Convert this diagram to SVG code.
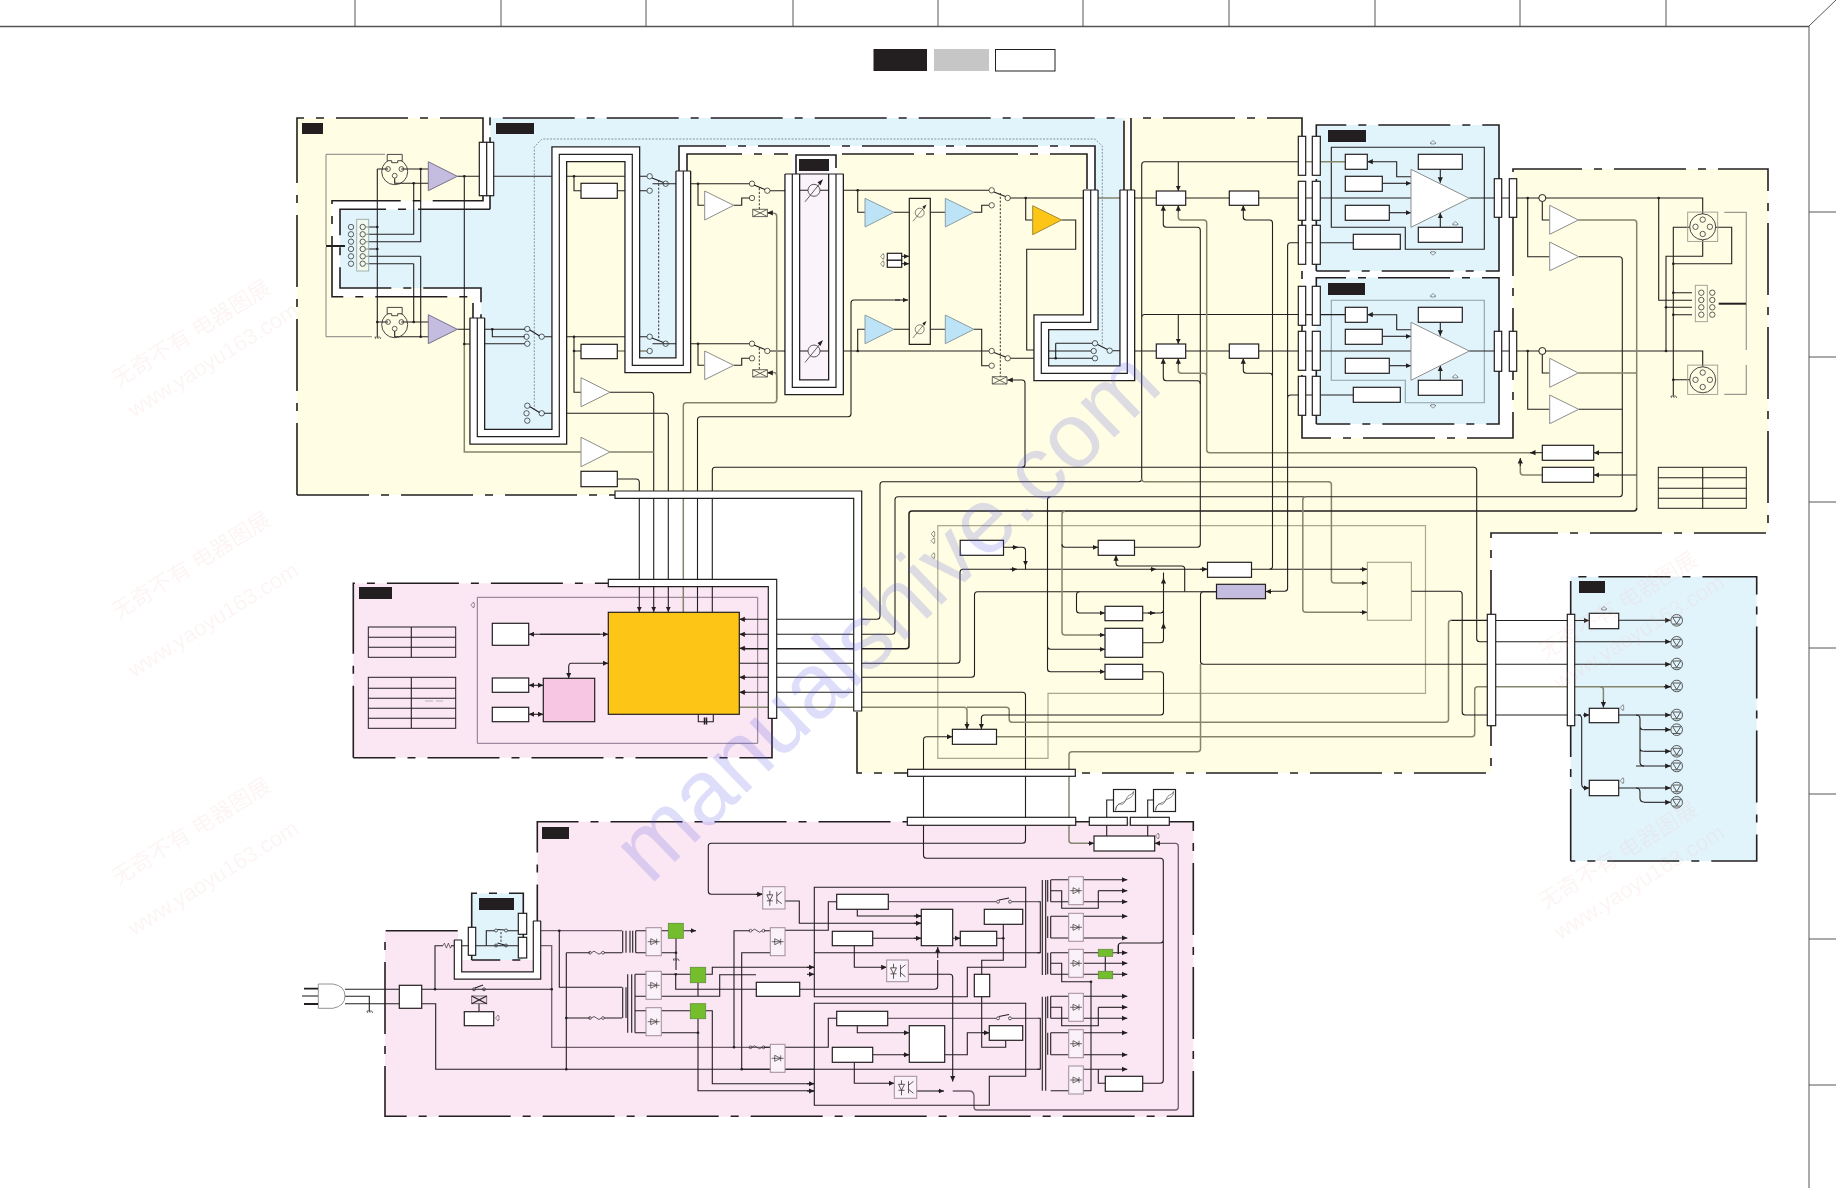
<svg xmlns="http://www.w3.org/2000/svg" width="1836" height="1188" viewBox="0 0 1836 1188">
<style>
.w{fill:none;stroke:#231F20;stroke-width:1.1}
.a{fill:none;stroke:#231F20;stroke-width:1.1;marker-end:url(#ah)}
.g{fill:none;stroke:#85856e;stroke-width:1.5}
.gm{fill:none;stroke:#6f5f6c;stroke-width:1.3}
.b{fill:#fff;stroke:#231F20;stroke-width:1.2}
.bk{fill:#231F20}
.d{fill:#231F20}
.c{fill:none;stroke:#33383a;stroke-width:.8}
.dd{fill:none;stroke:#231F20;stroke-width:.9;stroke-dasharray:2.2 1.6}
.bd{fill:none;stroke:#231F20;stroke-width:1.6;stroke-dasharray:72 12 8 12}
.tw{fill:#fff;stroke:#8d8d8d;stroke-width:1}
.tb{fill:#BDE4F6;stroke:#8d9da5;stroke-width:1}
.tp{fill:#C5BDE0;stroke:#77728d;stroke-width:1}
.to{fill:#FDC617;stroke:#a08b3a;stroke-width:1}
.gr{fill:#74BE2D;stroke:#5f8f38;stroke-width:.8}
.db{fill:#fbf1f8;stroke:#a08d9a;stroke-width:1}
.r1{fill:none;stroke:#231F20;stroke-width:16}
.r2{fill:none;stroke:#fff;stroke-width:13.4}
.r3{fill:none;stroke:#231F20;stroke-width:1.2}
.gp{fill:none;stroke:#a9a98c;stroke-width:1.2}
</style>
<defs>
<marker id="ah" markerWidth="7" markerHeight="7" refX="5.5" refY="3" orient="auto" markerUnits="userSpaceOnUse"><path d="M0 .4L5.5 3L0 5.6Z" fill="#231F20"/></marker>
<g id="dio"><path d="M-3 -3L3 0L-3 3Z M3 -3V3 M-6 0H6" fill="none" stroke="#3a3438" stroke-width=".7"/></g>
<g id="led"><circle r="5.8" fill="none" stroke="#333" stroke-width=".8"/><path d="M-4 -3H4L0 3.5Z M-4 3.8H4" fill="none" stroke="#333" stroke-width=".8"/></g>
<path id="ho" d="M-2 -1V-.2H-3L0 2.5L3 -.2H2V-1Z" fill="none" stroke="#555" stroke-width=".6"/>
<path id="gn" d="M-2.5 0H2.5M-2.5 0L-1.5 2M0 0L1 2M2.5 0L3.5 2" fill="none" stroke="#333" stroke-width=".7"/>
<g id="pot"><circle r="6" fill="none" stroke="#333" stroke-width=".8"/><path d="M-9 11.5L6 -7" fill="none" stroke="#333" stroke-width=".8"/><path d="M9 -11L3.5 -8L6.5 -5Z" fill="#231F20"/></g>
<g id="fuse"><circle cx="-6.5" r="1.4" fill="none" stroke="#333" stroke-width=".7"/><circle cx="6.5" r="1.4" fill="none" stroke="#333" stroke-width=".7"/><path d="M-5 0Q-2.5 -3 0 0T5 0" fill="none" stroke="#333" stroke-width=".8"/></g>
<g id="opto"><path d="M-7 -3H-1L-4 3Z M-7 3H-1 M-4 -7V-3 M-4 3V8 M3 -6V6 M3 -2L8 -6 M3 2L8 6" fill="none" stroke="#333" stroke-width=".8"/></g>
<g id="fan"><rect x="-11" y="-11" width="22" height="22" class="b"/><path d="M-9 10C-6 -3 -3 9 1 0S6 -3 9 -9M-9 10C-9 3 -2 3 1 0S9 -2 9 -9" fill="none" stroke="#555" stroke-width=".7"/></g>
<g id="xlr"><circle r="13" fill="none" stroke="#333" stroke-width=".9"/><circle cx="-6.7" cy="-2.7" r="2.4" class="c"/><circle cx="6.7" cy="-2.7" r="2.4" class="c"/><circle cy="4" r="2.4" class="c"/><path d="M-7.500 -17.300H7.500V-11H3V-9H-3V-11H-7.500Z" fill="#fffde3" stroke="#333" stroke-width=".9"/></g>
<g id="xlf"><rect x="-15" y="-14.7" width="30" height="29.3" fill="none" stroke="#9a9a90" stroke-width=".9"/><circle r="13" fill="none" stroke="#333" stroke-width=".9"/><circle cx="-7.2" r="2.7" class="c"/><circle cx="7.2" r="2.7" class="c"/><circle cy="-7.2" r="2.7" class="c"/><circle cy="7.2" r="2.7" class="c"/></g>
<path id="xb" d="M0 0H14.7V7.3H0Z M0 0L14.7 7.3M14.7 0L0 7.3" fill="#fffde3" stroke="#444" stroke-width=".8"/>
</defs>

<g id="frame">
<path d="M0 26.5H1809" fill="none" stroke="#555" stroke-width="1.6"/>
<path d="M355 0V26M501 0V26M646 0V26M793 0V26M938 0V26M1083 0V26M1229 0V26M1375 0V26M1520 0V26M1666 0V26M1809 26V1188M1809 26L1836 0M1809 212H1836M1809 357H1836M1809 502H1836M1809 648H1836M1809 794H1836M1809 939H1836M1809 1085H1836" fill="none" stroke="#444" stroke-width=".9"/>
<rect x="873.5" y="49" width="53.5" height="22" fill="#231F20"/>
<rect x="934" y="49" width="55" height="22" fill="#C6C6C6"/>
<rect x="995.5" y="49.5" width="59.5" height="21.5" fill="#fff" stroke="#231F20" stroke-width="1"/>
</g>

<g id="panels">
<path id="p-yellow" fill="#FFFDE3" d="M297 118H1302V438H1513V169H1768V533H1491V773H856V495H297Z"/>
<path id="p-blue" fill="#E2F4FB" d="M490 118H1124V190H1127.3V373.3H1041.3V322.3H1090.7V190H1095V146H679V171H683.3V365.3H632.3V154.3H559.3V436.7H477.3V318H481V288H340V209.3H490Z"/>
<path d="M486 118V205H335.7V292.7H477V318" fill="none" stroke="#fff" stroke-width="8.5"/>
<path d="M683 171V150H1091V190" fill="none" stroke="#fff" stroke-width="8"/>
<rect x="1127" y="118" width="4" height="72" fill="#fff"/>
<rect x="792" y="154" width="46" height="21" fill="#fff"/>
<rect id="p-iso" x="799.3" y="159" width="29" height="221" fill="#FBF3FA"/>
<rect id="p-box1" x="1316.3" y="125" width="182.7" height="146" fill="#E2F4FB"/>
<rect id="p-box2" x="1316.3" y="277.7" width="182.7" height="146.3" fill="#E2F4FB"/>
<rect id="p-pink1" x="353.3" y="583.3" width="418.7" height="174.4" fill="#FBE6F3"/>
<path id="p-pink2" fill="#FBE6F3" d="M385 930.7H458V960H537.3V821.7H1193.3V1116.7H385Z"/>
<rect id="p-mini" x="471.7" y="893.3" width="51.6" height="66.7" fill="#E2F4FB"/>
<rect id="p-led" x="1570.7" y="576.7" width="186" height="284.3" fill="#E2F4FB"/>
<path class="bd" d="M297 495V118H483V200.7H332V296.7H473V318M297 495H615"/>
<path class="bd" d="M490 209.3V118H1124V190M490 209.3H340V288H481V318"/>
<path class="bd" d="M679 171V146H1095V190M687 171V154H788M842 154H1087V190M796 174V155H836V174"/>
<path class="bd" d="M1131 190V118H1302V438H1513V169H1768V533H1491V773H857V712"/>
<path class="bd" d="M1316.3 271V125H1499V271H1316.3M1316.3 424V277.7H1499V424H1316.3"/>
<path class="bd" d="M353.3 757.7V583.3H772V757.7H353.3"/>
<path class="bd" d="M457.7 930.7H385V1116.3H1193.3V821.7H537.3V921"/>
<path class="bd" d="M471.7 960V893.3H523.3V960H471.7"/>
<path class="bd" d="M1570.7 861V576.7H1756.7V861H1570.7"/>
<path class="gp" d="M937.8 525.7H1425.5V693.3H1048V758.3H937.8Z"/>
<rect class="gp" x="1367.4" y="562.3" width="44" height="58"/>
<path d="M534.3 410V147L542 139H1095L1102.3 146V346" fill="none" stroke="#6d7d86" stroke-width=".8" stroke-dasharray="2 1.4"/>
<path d="M477.3 597.3H757.7V743.3H477.3Z" fill="none" stroke="#85748a" stroke-width="1"/>
<path d="M1331.3 147.3H1484.3V249.3H1405.3V227.3H1331.3Z" class="w"/>
<path d="M1331.3 300.3H1484.3V402.7H1405.3V380.3H1331.3Z" fill="none" stroke="#8aa0ad" stroke-width="1.1"/>
<rect class="bk" x="302" y="123" width="21" height="11"/>
<rect class="bk" x="496" y="123" width="38" height="11"/>
<rect class="bk" x="799" y="159" width="30" height="12"/>
<rect class="bk" x="1328" y="130" width="38" height="12"/>
<rect class="bk" x="1328" y="283" width="37" height="12"/>
<rect class="bk" x="359" y="587" width="33" height="12"/>
<rect class="bk" x="542" y="827" width="27" height="12"/>
<rect class="bk" x="479" y="898" width="35" height="12"/>
<rect class="bk" x="1579" y="581" width="26" height="12"/>
<path d="M326 245V154.3H385M326 247V336.7H372" fill="none" stroke="#777" stroke-width=".9"/>
<path d="M1724.3 212.3H1746.3V350M1724.3 394.3H1746.3V365" fill="none" stroke="#9a9a90" stroke-width="1.2"/>
</g>

<g id="connectors">
<path class="w" d="M377.3 169H388M377.3 169V336.7M401.3 169H428.3M394.7 178.3V183.3H428.3M420.7 169V241.7H366M413.7 183.3V234.3H366M377.3 227H366M377.3 249H366M420.7 256.3H366M420.7 256.3V336.7M413.7 263.7H366M413.7 263.7V322M377.3 322H388M401.3 322H428.3M394.7 331V336.7H428.3"/>
<path class="w" d="M457.3 176.3H480M457.3 329.3H470M464.3 176.3V344H470"/>
<path class="g" d="M464.3 344V452H581"/>
<path class="w" d="M484 329.3H525M492.3 329.3V336.7H525M484 343.7H525M544.4 336.7H647M493.7 176.3H647M617.3 190.7H647"/>
<path class="g" d="M617.3 351H647"/>
<path class="w" d="M574 176.3V190.7H581M574 336.7V392.3H581M574 351H581"/>
<path class="w" d="M652.5 183.7H676M652.5 343.7H676"/>
<path class="dd" d="M658.7 180V340"/>
<path class="w" d="M690 183.7H749.7M690 343.7H749.7M698 183.7V205.3H704.7M698 343.7V365.3H704.7M733.7 205.3H741.7V198H749.7M733.7 365.3H741.7V358.3H749.7M770 190.7H790M770 351H790"/>
<path class="dd" d="M759.3 188V209M759.3 348V369"/>
<path class="a" d="M544 413.3H665q3.3 0 3.3 3.3V612"/>
<path class="a" d="M610 392.3H650.3q3.4 0 3.4 3.4V612"/>
<path class="g" d="M610 452H653.7"/>
<path class="a" d="M617.3 479H636q3.3 0 3.3 3.3V612"/>
<path class="g" d="M683.3 612V405.7q0-3 3-3H773.7q3 0 3-3V216.3q0-3-3-3H768"/>
<path class="a" d="M772 212.8H767.3"/>
<path class="g" d="M776.7 399V375.5q0-3-3-3H768"/>
<path class="a" d="M772 372.8H767.3"/>
<path class="w" d="M697.5 612V419.7q0-3 3-3H848q3 0 3-3V303q0-3 3-3H900"/>
<path class="a" d="M895 300H908"/>
<path class="a" d="M712.3 612V470.3q0-3 3-3H1473.7q3 0 3 3V638.7q0 3 3 3H1670.7"/>
<path class="a" d="M1022 467.3q3 0 3-3V383q0-3-3-3H1007.3"/>
<path class="w" d="M843.3 190.3H989M857.7 190.3V212.3H865M784 190.3H808M820 190.3H843M784 351H808M820 351H843"/>
<path class="w" d="M843.3 351H989M857.7 351V329.3H865M894 212.3H909.3M930.3 212.3H945.3M974 212.3H981.7V205.3H989M894 329.3H909.3M930.3 329.3H945.3M974 329.3H981.7V365.7H989"/>
<path class="dd" d="M1000.3 193V377"/>
<path class="w" d="M1010.3 198H1083.3M1025.7 198V220H1032.7M1061.7 220H1075.7V249.3H1026.7V350H1034M1010.3 358.3H1034"/>
<path class="w" d="M1055.7 343.3H1092.5M1048 351H1091M1048 358.3H1092.5M1055.7 343.3V358.3M1112.5 350.7H1120"/>
<path class="g" d="M1098 198H1120"/>
<path class="w" d="M1134 198H1156.3M1185.7 198H1229.3M1134 351H1156.3M1185.7 351H1229.3"/>
<path class="w" d="M1258.7 198H1411M1469.3 198H1702.7V214M1258.7 351H1411M1469.3 351H1702.7V366.7"/>
<path class="a" d="M1178.3 161.7V191"/><path class="a" d="M1178.3 314.5V344"/>
<path class="g" d="M1298 161.7H1345.3"/>
<path class="w" d="M1298 161.7H1144.7q-3 0-3 3V478.7q0 3-3 3H883q-3 0-3 3V616.3q0 3-3 3H744M1144.7 314.5H1345.3M1141.7 317.5q0-3 3-3"/>
<path class="a" d="M746 619.3H739.3"/>
<path class="g" d="M1141.7 478.7q0 3 3 3H1328.4q3 0 3 3V580q0 3 3 3H1360"/>
<path class="a" d="M1360 583H1367"/>
<path class="w" d="M1578.7 256.7H1619.3q3 0 3 3V493.7q0 3-3 3H898q-3 0-3 3V631.3q0 3-3 3H744"/>
<path class="a" d="M746 634.3H739.3"/>
<path class="g" d="M1578.3 220H1633.7q3 0 3 3V508"/>
<path class="w" style="stroke-width:1.5" d="M1636.7 508q0 3-3 3H912q-3 0-3 3V645.7q0 3-3 3H744"/>
<path class="a" d="M746 648.3H739.3"/>
<path class="w" d="M739.3 663.3H957q3 0 3-3V572.3q0-3 3-3H1207.4"/>
<path class="a" d="M1200 569.3H1207.4"/><path class="a" d="M1360 569.3H1367"/>
<path class="w" d="M1251.5 569.3H1367"/>
<path class="w" d="M1216.5 591.7H977.5q-3 0-3 3V674.3q0 3-3 3H744"/>
<path class="a" d="M746 677.3H739.3"/>
<path class="w" d="M1022.5 692.3H744M1022.5 692.3q3 0 3 3V840.3q0 3-3 3H711.3q-3 0-3 3V891.3q0 3 3 3H762.7"/>
<path class="a" d="M746 692.3H739.3"/><path class="a" d="M756 894.3H762.7"/>
<path class="a" d="M923.5 739.7q0-3 3-3H952.4"/>
<path class="w" d="M923.5 739.7V855.3q0 3 3 3H1160.3q3 0 3 3V1080.3q0 3-3 3H1142.7M1163.3 940q0 3-3 3H1121.3q-3 0-3 3V954"/>
<path class="g" d="M739.3 707.3H964q3 0 3 3V725M967 707.3H1006.2q3 0 3 3V719.3q0 3 3 3H1445.5q3 0 3-3V623.3q0-3 3-3H1487"/>
<path class="a" d="M967 722V729.3"/>
<path class="a" d="M1003.5 547.3H1022.5q3 0 3 3V566"/>
<path class="w" d="M1025.5 566V569.3"/>
<path class="w" d="M1134.5 547.3H1197.3q3 0 3-3V230.3q0-3-3-3H1166.3q-3 0-3-3V212"/>
<path class="a" d="M1163.3 212V205.3"/>
<path class="w" d="M1200.3 383.7q0-3-3-3H1166.3q-3 0-3-3V365"/>
<path class="a" d="M1163.3 365V358.3"/>
<path class="a" d="M1216.5 591.7H1203.5q-3 0-3 3V661.3q0 3 3 3H1670.7"/>
<path class="g" d="M1200.5 664V748.7q0 3-3 3H1072q-3 0-3 3V840.3q0 3 3 3H1088"/>
<path class="a" d="M1088 843.3H1094"/>
<path class="g" d="M1206.7 223q0-3-3-3H1181.3q-3 0-3-3V212M1206.7 223V449.7q0 3 3 3H1535M1206.7 376.3q0-3-3-3H1181.3q-3 0-3-3V365"/>
<path class="a" d="M1178.3 212V205.3"/><path class="a" d="M1178.3 365V358.3"/><path class="a" d="M1542.3 452.7H1530"/>
<path class="g" d="M1542.3 475H1523.3q-3 0-3-3V464"/>
<path class="a" d="M1520.3 466V458"/>
<path class="a" d="M1622.3 452.7H1593.7"/><path class="a" d="M1636.7 475H1593.7"/>
<path class="g" d="M1636.7 373H1578.3"/>
<path class="w" d="M1622.3 409.3H1578.7"/>
<path class="w" d="M1272.5 566.3V223q0-3-3-3H1246.3q-3 0-3-3V212M1272.5 376.3q0-3-3-3H1246.3q-3 0-3-3V365M1272.5 566.3q0 3-3 3"/>
<path class="a" d="M1243.3 212V205.3"/><path class="a" d="M1243.3 365V358.3"/>
<path class="w" d="M1298 242.7H1290.6q-3 0-3 3V588.3q0 3-3 3H1272M1298 395H1290.6q-3 0-3 3"/>
<path class="a" d="M1272 591.5H1265.6"/>
<path class="g" d="M1305.8 496.7q-3 0-3 3V609.3q0 3 3 3H1360"/>
<path class="a" d="M1360 612.3H1367"/>
<path class="w" d="M1050.5 496.7q-3 0-3 3V668.7q0 3 3 3H1098M1047.5 646.3q0 3 3 3H1098"/>
<path class="a" d="M1098 671.7H1105"/><path class="a" d="M1098 649.3H1105"/>
<path class="g" d="M1065 511.3q-3 0-3 3V632q0 3 3 3H1098"/>
<path class="a" d="M1098 635H1105"/>
<path class="a" d="M1062 544.3q0 3 3 3H1098"/>
<path class="a" d="M1079.5 591.7q-3 0-3 3V610q0 3 3 3H1105"/>
<path class="w" d="M1142.7 613H1160.5q3 0 3-3M1142.7 642.7H1160.5q3 0 3-3V572.5M1142.7 671.7H1160.5q3 0 3 3V712q0 3-3 3H984.4q-3 0-3 3V722"/>
<path class="a" d="M1163.5 630V623"/><path class="a" d="M1163.5 585V578"/><path class="a" d="M1148 613H1155"/><path class="a" d="M1012 547.3H1018"/><path class="a" d="M1010 569.3H1017"/><path class="a" d="M1150 569.3H1156"/>
<path class="a" d="M981.4 722V729.3"/>
<path class="w" d="M1184.7 591.7V569q0-3-3-3H1119q-3 0-3-3V560"/>
<path class="a" d="M1116 561V555.3"/>
<path class="g" d="M996.5 736.7H1471.7q3 0 3-3V689.7q0-3 3-3H1600.4q3 0 3 3V700"/>
<path class="a" d="M1603.4 700V707.5"/>
<path class="g" d="M1600 686.7H1670.7"/>
<path class="a" d="M1664 686.7H1670.7"/>
<path class="w" d="M1411.5 591.3H1459.2q3 0 3 3V712q0 3 3 3H1581"/>
<path class="a" d="M1583 715H1589.3"/>
<path class="w" d="M1451.5 620.5H1589"/>
<path class="a" d="M1583 620.5H1589.3"/>
<path class="a" d="M1618.7 620.3H1670.7"/><path class="a" d="M1618.7 715H1670.7"/><path class="a" d="M1643.7 729.7H1670.7"/><path class="a" d="M1643.3 751.3H1670.7"/><path class="a" d="M1636 766H1670.7"/><path class="a" d="M1618.7 788H1670.7"/><path class="a" d="M1644 802.3H1670.7"/>
<path class="w" d="M1636 715q4 0 4 4V762q0 4 4 4M1640 726q0 3.7 3.7 3.7M1640 748q0 3.3 3.3 3.3M1636 788q4 0 4 4V798q0 4 4 4M1578 715q3.7 0 3.7 3.7V784q0 4 4 4"/>
<path class="a" d="M1583 788H1589.3"/>
<path class="w" d="M1527.7 198V256.7H1549.7M1527.7 351V409.3H1549.7M1542.3 201.5V220H1549.7M1542.3 354.5V373H1549.7"/>
<path class="w" d="M1689.7 227.3H1673.3V395.7M1715.7 227.3H1731.7V263.7H1673.3M1702.7 240V256.3H1666V351M1658.7 198V300.3H1692M1673.3 292.7H1692M1666 307.3H1692M1673.3 314.7H1692M1673.3 379.7H1690"/>
<path d="M1718.7 303.7H1746" fill="none" stroke="#231F20" stroke-width="2"/>
<path d="M326 246H345" fill="none" stroke="#231F20" stroke-width="2"/>
<path class="w" d="M1298 242.7H1353.3M1298 314.7H1345.3M1298 395H1353.3"/>
<path class="w" d="M1411 176.7H1396.7V161.7H1374"/><path class="a" d="M1374 161.7H1367.3"/>
<path class="w" d="M1411 329.7H1396.7V314.7H1374"/><path class="a" d="M1374 314.7H1367.3"/>
<path class="a" d="M1382.3 183.3H1411"/><path class="a" d="M1389.3 212.7H1411"/><path class="a" d="M1440.3 169.3V182.7"/><path class="a" d="M1440.3 227.3V212.7"/>
<path class="a" d="M1382.3 336.3H1411"/><path class="a" d="M1389.3 365.7H1411"/><path class="a" d="M1440.3 322.3V335.7"/><path class="a" d="M1440.3 380.3V365.7"/>
<path class="a" d="M540 634.3H608.3"/><path class="a" d="M600 634.3H528.7"/>
<path class="a" d="M571 663.3q-2.3 0-2.3 4V678.3"/><path class="a" d="M571 663.3H608.3"/>
<path class="a" d="M536 685.3H543.3"/><path class="a" d="M536 685.3H528.7"/><path class="a" d="M536 714.3H543.3"/><path class="a" d="M536 714.3H528.7"/>
<path class="w" d="M698.3 714.3V721.7H713.3V714.3"/>
<path d="M704.5 717.5V724.5M706.5 717.5V724.5" fill="none" stroke="#231F20" stroke-width="1.5"/>
<path class="w" d="M345 989.3H399.3M345 996.3H369.3V1011M345 1003.7H399.3M421.7 989.3H551.7M435 989.3V945.7H443M451 945.7H454M421.7 1003.7H435.7V1069.3H814"/>
<path d="M443 945.7l1.4-2.6 2 5 2-5 2 5 1.4-2.4" fill="none" stroke="#333" stroke-width=".7"/>
<path class="w" d="M461 945.7H518"/>
<path class="w" d="M479 1003.7V1011.7"/>
<path class="gm" d="M540.7 930.7H622M540.7 945.7H551.7V1047.3H770"/>
<path class="w" d="M559.3 930.7V987.3H622M566.3 952.7H590M604 952.7H622M566.3 952.7V1069.3M566.3 1018H590M604 1018H622"/>
<path class="w" d="M635.7 930.7H646M635.7 952.7H646M635 974.3H646M635 996.3H646M635 1010.7H646M635 1032.7H646"/>
<path class="w" d="M661.3 930.7H668.3M683.3 930.7H692M661.3 952.7H676V970M676 938V955M661.3 974.3H690.3M661.3 996.3H719.7V974.7H756M675.7 974.3V989.3H756.3M698 982.7V996.3M661.3 1010.7H690.3M698 1018.7V1090.7H814M661.3 1032.7H698M705.7 1010.7H712.3V1083.7H814M705.7 974.3H712.3V967.3H814"/>
<path class="a" d="M690 930.7H696"/>
<path class="w" d="M734 1047.3V930.7H750M764 930.7H770.3M741.7 1069.3V952.7H770.3M764 1047.3H770.3M741.7 1069.3H770.3"/>
<path class="w" d="M785 901H799.3V923.3H921.3M770 930.3H828.3V901.7H836.7M814 952.7H1040M785 952.7H770"/>
<path class="a" d="M914 923.3H921.3"/><path class="a" d="M914 916H921.3"/><path class="a" d="M914 938.3H921.3"/><path class="a" d="M955 938.3H960.3"/><path class="a" d="M807 967.3H814.3"/><path class="a" d="M807 974.3H814.3"/><path class="a" d="M807 1083.7H814.3"/><path class="a" d="M807 1091H814.3"/>
<path class="w" d="M857.3 909.3V916H921.3M872.7 938.3H921.3M952.7 938.3H960.3M996.7 938.3H1003.3M1003.3 924.3V960.3H981.7V974.3"/>
<path class="gm" d="M888.3 901.7H996M1012 901.7H1037.3M887.7 1018.3H996M1012 1018.3H1037.3"/>
<path class="w" d="M854.3 945.7V967.3H880"/><path class="a" d="M880 967.3H886.7"/>
<path class="w" d="M908.3 974.3H949.7q3 0 3 3V1075"/><path class="a" d="M952.7 1075V1081.5"/>
<path class="w" d="M799.7 989.3H934.7q3 0 3-3V960"/><path class="a" d="M937.7 958V947"/>
<path class="w" d="M981.7 996.7V1047.3H1005.7V1040.3"/>
<path class="w" d="M854.3 1062.3V1083.3H888"/><path class="a" d="M888 1083.3H894.3"/>
<path class="w" d="M785 1047.3H828.3V1018.3H836.7M770 1069.3H1040M857.3 1025.7V1032.7H903"/>
<path class="a" d="M903 1032.7H909.3"/><path class="a" d="M903 1054.7H909.3"/><path class="a" d="M982 1032.7H989.3"/>
<path class="w" d="M872.7 1054.7H909.3M944.7 1054.7H967.3V1032.7H989.3"/>
<path class="w" d="M916.7 1091H940"/><path class="a" d="M938 1091H944"/>
<path class="gm" d="M952.7 1091H969q5 0 5 5V1107q0 3 3 3H1175.3q3 0 3-3V846.3q0-3-3-3H1160"/>
<path class="a" d="M1160 843.3H1154.7"/>
<path class="w" d="M1037.3 901.7H1040.3V952.7H1037.3M1037.3 1018.3H1040.3V1069.3H1037.3"/>
<path class="w" d="M1042.3 880V975M1045.7 880V975M1042.3 996.7V1090.7M1045.7 996.7V1090.7"/>
<path class="w" d="M1047.7 880V901.7M1050.7 880V901.7M1047.7 916.3V938M1050.7 916.3V938M1047.7 952.7V974.3M1050.7 952.7V974.3M1047.7 996.3V1018.3M1050.7 996.3V1018.3M1047.7 1032.7V1054.7M1050.7 1032.7V1054.7"/>
<path class="w" d="M1050.7 879.7H1068.7M1050.7 901.7H1068.7M1050.7 916.3H1068.7M1050.7 938H1068.7M1050.7 952.7H1068.7M1050.7 974.3H1068.7M1050.7 996.3H1068.7M1050.7 1018.3H1068.7M1050.7 1032.7H1068.7M1050.7 1054.7H1068.7"/>
<path class="a" d="M1083.3 879.7H1127.3"/><path class="a" d="M1098.3 890.7H1127.3"/><path class="a" d="M1083.3 901.7H1127.3"/><path class="a" d="M1083.3 916.3H1127.3"/><path class="a" d="M1083.3 938H1127.3"/><path class="a" d="M1083.3 952.7H1127.3"/><path class="a" d="M1083.3 963.3H1127.3"/><path class="a" d="M1083.3 974.3H1127.3"/><path class="a" d="M1083.3 996.3H1127.3"/><path class="a" d="M1098.3 1007.3H1127.3"/><path class="a" d="M1083.3 1018.3H1127.3"/><path class="a" d="M1083.3 1032.7H1127.3"/><path class="a" d="M1083.3 1054.7H1127.3"/><path class="a" d="M1083.3 1069.3H1127.3"/>
<path class="w" d="M1050.7 890.7H1061.7V908.3H1098.3V890.7M1050.7 963.3H1061.7V981.7H1091M1050.7 1007.3H1061.7V1025.7H1098.3V1007.3M1091 981.7V1091M1098.3 1069.3V1083.3H1105.3M1050.7 1090.7H1091"/>
<path class="w" d="M1105.3 956.3V971.3"/>
<path class="w" d="M1118.3 954V945"/>
<path class="w" d="M1106.7 817V800H1113.3M1147.7 817V800H1153.3M1106.7 825.3V836M1147.7 825.3V836"/>
</g>

<g id="dots">
<circle class="d" cx="420.7" cy="169" r="1.3"/><circle class="d" cx="413.7" cy="183.3" r="1.3"/><circle class="d" cx="377.3" cy="227" r="1.3"/><circle class="d" cx="377.3" cy="249" r="1.3"/><circle class="d" cx="377.3" cy="322" r="1.3"/><circle class="d" cx="413.7" cy="322" r="1.3"/><circle class="d" cx="420.7" cy="336.7" r="1.3"/><circle class="d" cx="464.3" cy="176.3" r="1.3"/><circle class="d" cx="464.3" cy="344" r="1.3"/><circle class="d" cx="492.3" cy="329.3" r="1.3"/><circle class="d" cx="574" cy="176.3" r="1.3"/><circle class="d" cx="574" cy="336.7" r="1.3"/><circle class="d" cx="574" cy="351" r="1.3"/><circle class="d" cx="698" cy="183.7" r="1.3"/><circle class="d" cx="698" cy="343.7" r="1.3"/><circle class="d" cx="857.7" cy="190.3" r="1.3"/><circle class="d" cx="857.7" cy="351" r="1.3"/><circle class="d" cx="1025.7" cy="198" r="1.3"/><circle class="d" cx="1055.7" cy="358.3" r="1.3"/><circle class="d" cx="1527.7" cy="198" r="1.3"/><circle class="d" cx="1527.7" cy="351" r="1.3"/><circle class="d" cx="1658.7" cy="198" r="1.3"/><circle class="d" cx="1673.3" cy="263.7" r="1.3"/><circle class="d" cx="1673.3" cy="292.7" r="1.3"/><circle class="d" cx="1673.3" cy="314.7" r="1.3"/><circle class="d" cx="1666" cy="307.3" r="1.3"/><circle class="d" cx="1666" cy="351" r="1.3"/><circle class="d" cx="1673.3" cy="379.7" r="1.3"/>
<circle class="d" cx="435" cy="989.3" r="1.3"/><circle class="d" cx="551.7" cy="989.3" r="1.3"/><circle class="d" cx="559.3" cy="930.7" r="1.3"/><circle class="d" cx="566.3" cy="1018" r="1.3"/><circle class="d" cx="566.3" cy="1069.3" r="1.3"/><circle class="d" cx="676" cy="952.7" r="1.3"/><circle class="d" cx="675.7" cy="974.3" r="1.3"/><circle class="d" cx="698" cy="1032.7" r="1.3"/><circle class="d" cx="734" cy="1047.3" r="1.3"/><circle class="d" cx="741.7" cy="1069.3" r="1.3"/><circle class="d" cx="1091" cy="981.7" r="1.3"/><circle class="d" cx="1003.3" cy="938.3" r="1.3"/>
</g>

<g id="ribbons">
<path d="M477.3 318V436.7H559.3V154.3H632.3V365.3H683.3V171" class="r1"/>
<path d="M477.3 318V436.7H559.3V154.3H632.3V365.3H683.3V171" class="r2"/>
<path d="M477.3 318V436.7H559.3V154.3H632.3V365.3H683.3V171" class="r3"/>
<path d="M792.3 174V387.3H836V174" class="r1"/><path d="M792.3 174V387.3H836V174" class="r2"/><path d="M792.3 174V387.3H836V174" class="r3"/>
<path d="M1090.7 190V322.3H1041.3V373.3H1127.3V190" class="r1"/><path d="M1090.7 190V322.3H1041.3V373.3H1127.3V190" class="r2"/><path d="M1090.7 190V322.3H1041.3V373.3H1127.3V190" class="r3"/>
<path d="M458 940V975.5H537V921" fill="none" stroke="#231F20" stroke-width="8.6"/><path d="M458 940V975.5H537V921" fill="none" stroke="#fff" stroke-width="6.2"/>
<path d="M469.6 318H484.7M676 171H690.7M785 174H843.7M1083.3 190H1098M1119.7 190H1134.7M454 940H462M533 921H541" class="w"/>
<path class="b" d="M615 491H861.7V711H853.7V498.3H615Z"/>
<path class="b" d="M608.3 579.3H776.7V718.3H768.3V586.7H608.3Z"/>
<rect class="b" x="907.6" y="769.3" width="167.7" height="7"/>
<rect class="b" x="907.3" y="817.3" width="168.4" height="8"/>
<rect class="b" x="1089.3" y="817.3" width="38" height="8"/>
<rect class="b" x="1130.3" y="817.3" width="39" height="8"/>
<rect class="b" x="479.3" y="142.3" width="7.4" height="53.4"/><rect class="b" x="486.7" y="142.3" width="7" height="53.4"/>
<rect class="b" x="1298.3" y="136.3" width="7.4" height="39"/><rect class="b" x="1312.3" y="136.3" width="8" height="39"/>
<rect class="b" x="1298.3" y="181.3" width="7.4" height="39"/><rect class="b" x="1312.3" y="181.3" width="8" height="39"/>
<rect class="b" x="1298.3" y="225.3" width="7.4" height="39"/><rect class="b" x="1312.3" y="225.3" width="8" height="39"/>
<rect class="b" x="1298.3" y="286.3" width="7.4" height="39"/><rect class="b" x="1312.3" y="286.3" width="8" height="39"/>
<rect class="b" x="1298.3" y="331.3" width="7.4" height="39"/><rect class="b" x="1312.3" y="331.3" width="8" height="39"/>
<rect class="b" x="1298.3" y="376.3" width="7.4" height="39"/><rect class="b" x="1312.3" y="376.3" width="8" height="39"/>
<rect class="b" x="1494.3" y="178.7" width="7.4" height="38.6"/><rect class="b" x="1509.3" y="178.7" width="7.4" height="38.6"/>
<rect class="b" x="1494.3" y="331.3" width="7.4" height="40"/><rect class="b" x="1509.3" y="331.3" width="7.4" height="40"/>
<rect class="b" x="1487.3" y="614.3" width="8.4" height="111.4"/>
<rect class="b" x="1567.3" y="614.3" width="7.4" height="111.4"/>
<rect class="b" x="468.3" y="927.3" width="7.4" height="28"/>
<rect class="b" x="518.3" y="913.3" width="8.4" height="21"/>
<rect class="b" x="518.3" y="937.3" width="8.4" height="20.7"/>
</g>

<g id="nodes">
<g id="mic1"><use href="#xlr" x="394.7" y="171.7"/></g>
<g id="mic2"><use href="#xlr" x="394.7" y="324.7"/></g>
<g id="jack1"><rect x="356.7" y="219.3" width="12" height="51.7" fill="#FFFDE3" fill-opacity=".5" stroke="#9aa8a8" stroke-width=".9"/><circle class="c" cx="362.7" cy="227" r="2.7"/><circle class="c" cx="362.7" cy="234.3" r="2.7"/><circle class="c" cx="362.7" cy="241.7" r="2.7"/><circle class="c" cx="362.7" cy="249" r="2.7"/><circle class="c" cx="362.7" cy="256.3" r="2.7"/><circle class="c" cx="362.7" cy="263.7" r="2.7"/>
<circle class="c" cx="351" cy="227" r="2.7"/><circle class="c" cx="351" cy="234.3" r="2.7"/><circle class="c" cx="351" cy="241.7" r="2.7"/><circle class="c" cx="351" cy="249" r="2.7"/><circle class="c" cx="351" cy="256.3" r="2.7"/><circle class="c" cx="351" cy="263.7" r="2.7"/></g>
<g id="amp1"><path class="tp" d="M428.3 161.7V190.7L457.3 176.3Z"/></g>
<g id="amp2"><path class="tp" d="M428.3 314.7V343.7L457.3 329.3Z"/></g>
<g id="sw1"><circle class="c" cx="527.3" cy="329" r="2.7"/><circle class="c" cx="526.5" cy="336.7" r="2.7"/><circle class="c" cx="527.3" cy="343.7" r="2.7"/><circle class="c" cx="541.7" cy="336.7" r="2.7"/><path class="w" d="M530 330L539.5 336"/></g>
<g id="sw2"><circle class="c" cx="527.3" cy="405.7" r="2.7"/><circle class="c" cx="526.5" cy="413.3" r="2.7"/><circle class="c" cx="527.3" cy="420.7" r="2.7"/><circle class="c" cx="541.7" cy="413.3" r="2.7"/><path class="w" d="M530 406.7L539.5 412.5"/></g>
<g id="sw3"><circle class="c" cx="649.7" cy="176.3" r="2.7"/><circle class="c" cx="649.7" cy="190.7" r="2.7"/><circle class="c" cx="665.7" cy="183.7" r="2.7"/><path class="w" d="M652 178L663.5 182.5"/></g>
<g id="sw4"><circle class="c" cx="649.7" cy="336.7" r="2.7"/><circle class="c" cx="649.7" cy="351" r="2.7"/><circle class="c" cx="665.7" cy="343.7" r="2.7"/><path class="w" d="M652 338L663.5 342.5"/></g>
<g id="sw5"><circle class="c" cx="752" cy="183.7" r="2.7"/><circle class="c" cx="752" cy="198" r="2.7"/><circle class="c" cx="767.3" cy="190.7" r="2.7"/><path class="w" d="M754 185L765 189.5"/><use href="#xb" x="752.7" y="209.3"/></g>
<g id="sw6"><circle class="c" cx="752" cy="343.7" r="2.7"/><circle class="c" cx="752" cy="358.3" r="2.7"/><circle class="c" cx="767.3" cy="351" r="2.7"/><path class="w" d="M754 345L765 349.5"/><use href="#xb" x="752.7" y="369.7"/></g>
<g id="sw7"><circle class="c" cx="991.7" cy="190.3" r="2.7"/><circle class="c" cx="991.7" cy="205.3" r="2.7"/><circle class="c" cx="1007.7" cy="198" r="2.7"/><path class="w" d="M994 192L1005.5 196.5"/></g>
<g id="sw8"><circle class="c" cx="991.7" cy="351" r="2.7"/><circle class="c" cx="991.7" cy="365.7" r="2.7"/><circle class="c" cx="1007.7" cy="358.3" r="2.7"/><path class="w" d="M994 352.5L1005.5 357"/><use href="#xb" x="992.3" y="376.7"/></g>
<g id="sw9"><circle class="c" cx="1095" cy="343.3" r="2.7"/><circle class="c" cx="1093.7" cy="351" r="2.7"/><circle class="c" cx="1095" cy="358.3" r="2.7"/><circle class="c" cx="1109.7" cy="350.7" r="2.7"/><path class="w" d="M1097.5 344.5L1107.5 349.5"/></g>
<g id="rect-a"><rect class="b" x="581" y="183.3" width="36.3" height="15"/></g>
<g id="rect-b"><rect class="b" x="581" y="344.3" width="36.3" height="14.4"/></g>
<g id="rect-c"><rect class="b" x="581" y="471.3" width="36.3" height="15.4"/></g>
<g id="buf1"><path class="tw" d="M704.7 191V220L733.7 205.3Z"/></g>
<g id="buf2"><path class="tw" d="M704.7 351V379.7L733.7 365.3Z"/></g>
<g id="buf3"><path class="tw" d="M581 377.7V406.7L610 392.3Z"/></g>
<g id="buf4"><path class="tw" d="M581 437.3V466.7L610 452Z"/></g>
<g id="pot1"><use href="#pot" x="814" y="190.3"/></g>
<g id="pot2"><use href="#pot" x="814" y="351"/></g>
<g id="vbox"><path d="M909.3 198.3H930.3V344.3H909.3Z" fill="#FFFDE3" stroke="#231F20" stroke-width="1.2"/><g transform="translate(919.7 212.7) scale(.75)"><use href="#pot"/></g><g transform="translate(919.7 329.3) scale(.75)"><use href="#pot"/></g></g>
<g id="ctl"><rect class="b" x="887.3" y="253.3" width="14.4" height="7"/><rect class="b" x="887.3" y="260.3" width="14.4" height="7"/><path class="a" d="M901.7 256.3H909"/><path class="a" d="M901.7 263.7H909"/><use href="#ho" transform="translate(883 256.5) rotate(90)"/><use href="#ho" transform="translate(883 263.8) rotate(90)"/></g>
<g id="tb1"><path class="tb" d="M865 198.3V227L894 212.3Z"/></g><g id="tb2"><path class="tb" d="M945.3 198.3V227L974 212.3Z"/></g>
<g id="tb3"><path class="tb" d="M865 315V343.7L894 329.3Z"/></g><g id="tb4"><path class="tb" d="M945.3 315V343.7L974 329.3Z"/></g>
<g id="to1"><path class="to" d="M1032.7 205.7V234.7L1061.7 220Z"/></g>
<g id="r1"><rect class="b" x="1156.3" y="191" width="29.4" height="14.3"/></g>
<g id="r2"><rect class="b" x="1229.3" y="191" width="29.4" height="14.3"/></g>
<g id="r3"><rect class="b" x="1156.3" y="344" width="29.4" height="14.3"/></g>
<g id="r4"><rect class="b" x="1229.3" y="344" width="29.4" height="14.3"/></g>
<g id="pa1"><rect class="b" x="1345.3" y="154.3" width="22" height="15"/><rect class="b" x="1345.3" y="176.3" width="37" height="15"/><rect class="b" x="1345.3" y="205.3" width="44" height="15"/><rect class="b" x="1418.3" y="154.3" width="44" height="15"/><rect class="b" x="1418.3" y="227.3" width="44" height="15"/><rect class="b" x="1353.3" y="234.3" width="47" height="15"/><path class="tw" d="M1411 169.3V227.3L1469.3 198.3Z"/><use href="#ho" transform="translate(1433 143) rotate(180)"/><use href="#ho" x="1433" y="252.7"/><use href="#ho" transform="translate(1455.3 224) rotate(180)"/></g>
<g id="pa2"><rect class="b" x="1345.3" y="307.3" width="22" height="15"/><rect class="b" x="1345.3" y="329.3" width="37" height="15"/><rect class="b" x="1345.3" y="358.3" width="44" height="15"/><rect class="b" x="1418.3" y="307.3" width="44" height="15"/><rect class="b" x="1418.3" y="380.3" width="44" height="15"/><rect class="b" x="1353.3" y="387.3" width="47" height="15"/><path class="tw" d="M1411 322.3V380.3L1469.3 351Z"/><use href="#ho" transform="translate(1433 296) rotate(180)"/><use href="#ho" x="1433" y="405.7"/><use href="#ho" transform="translate(1455.3 377) rotate(180)"/></g>
<g id="sens1"><circle cx="1542.3" cy="198" r="3.5" fill="#FFFDE3" stroke="#231F20" stroke-width="1"/><path class="tw" d="M1549.7 205.3V234.3L1578.3 220Z"/><path class="tw" d="M1549.7 242V270.7L1578.7 256.7Z"/></g>
<g id="sens2"><circle cx="1542.3" cy="351" r="3.5" fill="#FFFDE3" stroke="#231F20" stroke-width="1"/><path class="tw" d="M1549.7 358.3V387.3L1578.3 373Z"/><path class="tw" d="M1549.7 395V423.7L1578.7 409.3Z"/></g>
<g id="out1"><use href="#xlf" x="1702.7" y="226.8"/></g>
<g id="out2"><use href="#xlf" x="1702.7" y="379.8"/></g>
<g id="jack2"><rect x="1695.3" y="285.3" width="12" height="36.4" fill="none" stroke="#9a9a90" stroke-width=".9"/><circle class="c" cx="1701.3" cy="292.7" r="2.7"/><circle class="c" cx="1701.3" cy="300" r="2.7"/><circle class="c" cx="1701.3" cy="307.3" r="2.7"/><circle class="c" cx="1701.3" cy="314.7" r="2.7"/><circle class="c" cx="1712.3" cy="292.7" r="2.7"/><circle class="c" cx="1712.3" cy="300" r="2.7"/><circle class="c" cx="1712.3" cy="307.3" r="2.7"/><circle class="c" cx="1712.3" cy="314.7" r="2.7"/></g>
<g id="r5"><rect class="b" x="1542.3" y="445.3" width="51.4" height="15"/></g>
<g id="r6"><rect class="b" x="1542.3" y="467.3" width="51.4" height="15"/></g>
<g id="tab1"><rect x="1658.3" y="467.3" width="88" height="41" fill="none" stroke="#231F20" stroke-width="1"/><path class="w" d="M1702.7 467.3V508.3M1658.3 477.7H1746.3M1658.3 488.3H1746.3M1658.3 498.3H1746.3"/></g>
<g id="r7"><rect class="b" x="960.2" y="540.3" width="43.3" height="15"/></g>
<g id="r8"><rect class="b" x="1098.2" y="540.3" width="36.3" height="15"/></g>
<g id="r9"><rect class="b" x="1207.5" y="562.3" width="44" height="15"/></g>
<g id="r10"><rect x="1216.5" y="584.3" width="49" height="14.4" fill="#C5BDE0" stroke="#231F20" stroke-width="1.2"/></g>
<g id="r11"><rect class="b" x="1105" y="606.3" width="37.7" height="14.4"/></g>
<g id="r12"><rect class="b" x="1105" y="628.3" width="37.7" height="29"/></g>
<g id="r13"><rect class="b" x="1105" y="664.3" width="37.7" height="15"/></g>
<g id="r14"><rect class="b" x="952.4" y="729.3" width="44.1" height="15"/></g>
<use href="#ho" transform="translate(933.7 534) rotate(90)"/><use href="#ho" transform="translate(933.7 540.7) rotate(90)"/><use href="#ho" transform="translate(933.7 555.7) rotate(90)"/>
<g id="chip"><rect x="608.3" y="612.3" width="131" height="102" fill="#FDC617" stroke="#231F20" stroke-width="1.2"/></g>
<g id="mem1"><rect class="b" x="492.3" y="623.3" width="36.4" height="22"/></g>
<g id="mem2"><rect class="b" x="492.3" y="678" width="36.4" height="14.3"/></g>
<g id="mem3"><rect class="b" x="492.3" y="707.3" width="36.4" height="14.4"/></g>
<g id="sub"><rect x="543.3" y="678.3" width="51.4" height="43.4" fill="#F6C6E2" stroke="#231F20" stroke-width="1.2"/></g>
<g id="tab2"><rect x="368.3" y="627" width="87.4" height="30.3" fill="none" stroke="#231F20" stroke-width="1"/><path class="w" d="M411.3 627V657.3M368.3 637.3H455.7M368.3 647.3H455.7"/></g>
<g id="tab3"><rect x="368.3" y="677.3" width="87.4" height="51" fill="none" stroke="#231F20" stroke-width="1"/><path class="w" d="M411.3 677.3V728.3M368.3 688.3H455.7M368.3 698.3H455.7M368.3 708.3H455.7M368.3 718.3H455.7"/><path d="M425 701H433M436 701H443" fill="none" stroke="#aaa" stroke-width=".8"/></g>
<use href="#ho" transform="translate(473.3 605) rotate(90)"/>
<g id="leds"><rect class="b" x="1589.3" y="613.3" width="29.4" height="15.4"/><rect class="b" x="1589.3" y="708.3" width="29.4" height="14.4"/><rect class="b" x="1589.3" y="780.3" width="29.4" height="15.4"/><use href="#ho" transform="translate(1604 609) rotate(180)"/><use href="#ho" transform="translate(1622.7 707.7) rotate(90)"/><use href="#ho" transform="translate(1622.7 780.7) rotate(90)"/>
<use href="#led" x="1676.7" y="620.3"/><use href="#led" x="1676.7" y="642.3"/><use href="#led" x="1676.7" y="664"/><use href="#led" x="1676.7" y="686"/><use href="#led" x="1676.7" y="715"/><use href="#led" x="1676.7" y="729.7"/><use href="#led" x="1676.7" y="751.3"/><use href="#led" x="1676.7" y="766"/><use href="#led" x="1676.7" y="788"/><use href="#led" x="1676.7" y="802.3"/></g>
<g id="plug"><path d="M318.3 984H333Q345 986 345 996Q345 1006 333 1008.3H318.3Z" fill="#fff" stroke="#888" stroke-width=".9"/><path d="M304 988.7H318M304 1004H318" fill="none" stroke="#231F20" stroke-width="1.8"/><path d="M302 996H318" fill="none" stroke="#888" stroke-width="2"/><use href="#gn" x="369.3" y="1011"/></g>
<g id="filter"><rect class="b" x="399.3" y="985.3" width="22.4" height="23"/></g>
<g id="psw"><circle class="c" cx="474" cy="989.3" r="1.5"/><circle class="c" cx="484" cy="989.3" r="1.5"/><path class="w" d="M475 988L483 985"/><rect x="471.7" y="996" width="15" height="7.7" fill="#f0d8e8" stroke="#555" stroke-width=".8"/><path class="w" d="M471.7 996L486.7 1003.7M486.7 996L471.7 1003.7"/><rect class="b" x="464.3" y="1011.7" width="29.4" height="14"/><use href="#ho" transform="translate(498 1018) rotate(90)"/></g>
<g id="minisw"><circle class="c" cx="496" cy="930.5" r="1.5"/><circle class="c" cx="506" cy="930.5" r="1.5"/><circle class="c" cx="496" cy="945.5" r="1.5"/><circle class="c" cx="506" cy="945.5" r="1.5"/><path class="w" d="M507.5 930.7H518.3M486.3 945.7V930.7H494.5M497.5 929.5L504.5 930M497.5 943L504.5 945"/><path class="dd" d="M501 932V943"/></g>
<g id="fuses"><use href="#fuse" x="596.5" y="952.7"/><use href="#fuse" x="596.5" y="1018"/><use href="#fuse" x="757" y="930.7"/><use href="#fuse" x="757" y="1047.3"/></g>
<g id="xf"><path class="w" d="M622.7 930.7V952.7M626 930.7V952.7M630 930.7V952.7M632.7 930.7V952.7M635.7 930.7V952.7M622.7 987.3V1018M626 987.3V1018M627.7 974.3V1032.7M631.7 974.3V1032.7M635 974.3V1032.7"/></g>
<g id="dblocks">
<rect class="db" x="646" y="927.7" width="15.3" height="28"/><use href="#dio" x="653.7" y="941.7"/>
<rect class="db" x="646" y="971.3" width="15.3" height="28"/><use href="#dio" x="653.7" y="985.3"/>
<rect class="db" x="646" y="1007.7" width="15.3" height="28"/><use href="#dio" x="653.7" y="1021.7"/>
<rect class="db" x="770.3" y="927.7" width="14.7" height="28"/><use href="#dio" x="777.7" y="941.7"/>
<rect class="db" x="770.3" y="1044.3" width="14.7" height="28"/><use href="#dio" x="777.7" y="1058.3"/>
<rect class="db" x="1068.7" y="876.7" width="14.6" height="28"/><use href="#dio" x="1076" y="890.7"/>
<rect class="db" x="1068.7" y="913.3" width="14.6" height="28"/><use href="#dio" x="1076" y="927.3"/>
<rect class="db" x="1068.7" y="949.3" width="14.6" height="28"/><use href="#dio" x="1076" y="963.3"/>
<rect class="db" x="1068.7" y="993.3" width="14.6" height="28"/><use href="#dio" x="1076" y="1007.3"/>
<rect class="db" x="1068.7" y="1029.7" width="14.6" height="28"/><use href="#dio" x="1076" y="1043.7"/>
<rect class="db" x="1068.7" y="1066" width="14.6" height="28"/><use href="#dio" x="1076" y="1080"/>
</g>
<g id="reg"><rect class="gr" x="668.3" y="923.3" width="15" height="15"/><rect class="gr" x="690.3" y="967.3" width="15.4" height="15.4"/><rect class="gr" x="690.3" y="1003.7" width="15.4" height="15"/><rect class="gr" x="1098.3" y="949.3" width="14.4" height="7"/><rect class="gr" x="1098.3" y="971.3" width="14.4" height="7.4"/><use href="#gn" x="675.7" y="959"/></g>
<g id="optos"><rect class="db" x="762.7" y="886.7" width="22.3" height="22.3"/><use href="#opto" x="773.8" y="897.8"/><rect class="db" x="886.7" y="960" width="21.6" height="21.7"/><use href="#opto" x="897.5" y="970.8"/><rect class="db" x="894.3" y="1076.3" width="22.4" height="22"/><use href="#opto" x="905.5" y="1087.3"/></g>
<g id="pbox1"><path class="w" d="M814.3 887.3H1025.7V967.3H967.3V996.7H814.3Z"/><path class="w" d="M814.3 1003.3H1025.7V1076.3H989.3V1105.3H814.3Z"/></g>
<rect class="b" x="756.3" y="982.3" width="43.4" height="14"/>
<rect class="b" x="836.7" y="894.3" width="51.6" height="15"/>
<rect class="b" x="832.3" y="931.3" width="40.4" height="14.4"/>
<rect class="b" x="921.3" y="909.3" width="31.4" height="36.4"/>
<rect class="b" x="960.3" y="931.3" width="36.4" height="14.4"/>
<rect class="b" x="984.3" y="909.3" width="38.4" height="15"/>
<rect class="b" x="974.3" y="974.3" width="15.4" height="22.4"/>
<rect class="b" x="836.7" y="1011.3" width="51" height="14.4"/>
<rect class="b" x="832.3" y="1047.3" width="40.4" height="15"/>
<rect class="b" x="909.3" y="1025.7" width="35.4" height="36.6"/>
<rect class="b" x="989.3" y="1025.7" width="33.4" height="14.6"/>
<rect class="b" x="1105.3" y="1076.3" width="37.4" height="15"/>
<rect class="b" x="1094" y="836" width="60.7" height="15"/>
<g id="sw-a"><circle class="c" cx="998" cy="901.7" r="1.5"/><circle class="c" cx="1010" cy="901.7" r="1.5"/><path class="w" d="M999 900L1009 898"/></g>
<g id="sw-b"><circle class="c" cx="998" cy="1018.3" r="1.5"/><circle class="c" cx="1010" cy="1018.3" r="1.5"/><path class="w" d="M999 1016.5L1009 1014.5"/></g>
<g id="fan1"><use href="#fan" x="1124.5" y="800.5"/></g><g id="fan2"><use href="#fan" x="1164.5" y="800.5"/></g>
<use href="#ho" transform="translate(1158 836) rotate(90)"/>
<use href="#gn" x="377.3" y="337"/>
<use href="#gn" x="1673.3" y="396"/>
</g>

<g id="watermark" font-family="'Liberation Sans','Noto Sans CJK SC',sans-serif">
<text transform="translate(650 886) rotate(-44)" font-size="92" fill="#5a5ae6" fill-opacity=".2">manualshive.com</text>
<g fill="#f3a8a8" fill-opacity=".13" font-size="22">
<text transform="translate(118 388) rotate(-32)">无奇不有 电器图展</text><text transform="translate(134 418) rotate(-32)">www.yaoyu163.com</text>
<text transform="translate(118 620) rotate(-32)">无奇不有 电器图展</text><text transform="translate(134 678) rotate(-32)">www.yaoyu163.com</text>
<text transform="translate(118 886) rotate(-32)">无奇不有 电器图展</text><text transform="translate(134 936) rotate(-32)">www.yaoyu163.com</text>
<text transform="translate(1545 660) rotate(-32)">无奇不有 电器图展</text><text transform="translate(1560 690) rotate(-32)">www.yaoyu163.com</text>
<text transform="translate(1545 910) rotate(-32)">无奇不有 电器图展</text><text transform="translate(1560 940) rotate(-32)">www.yaoyu163.com</text>
</g>
</g>
</svg>
